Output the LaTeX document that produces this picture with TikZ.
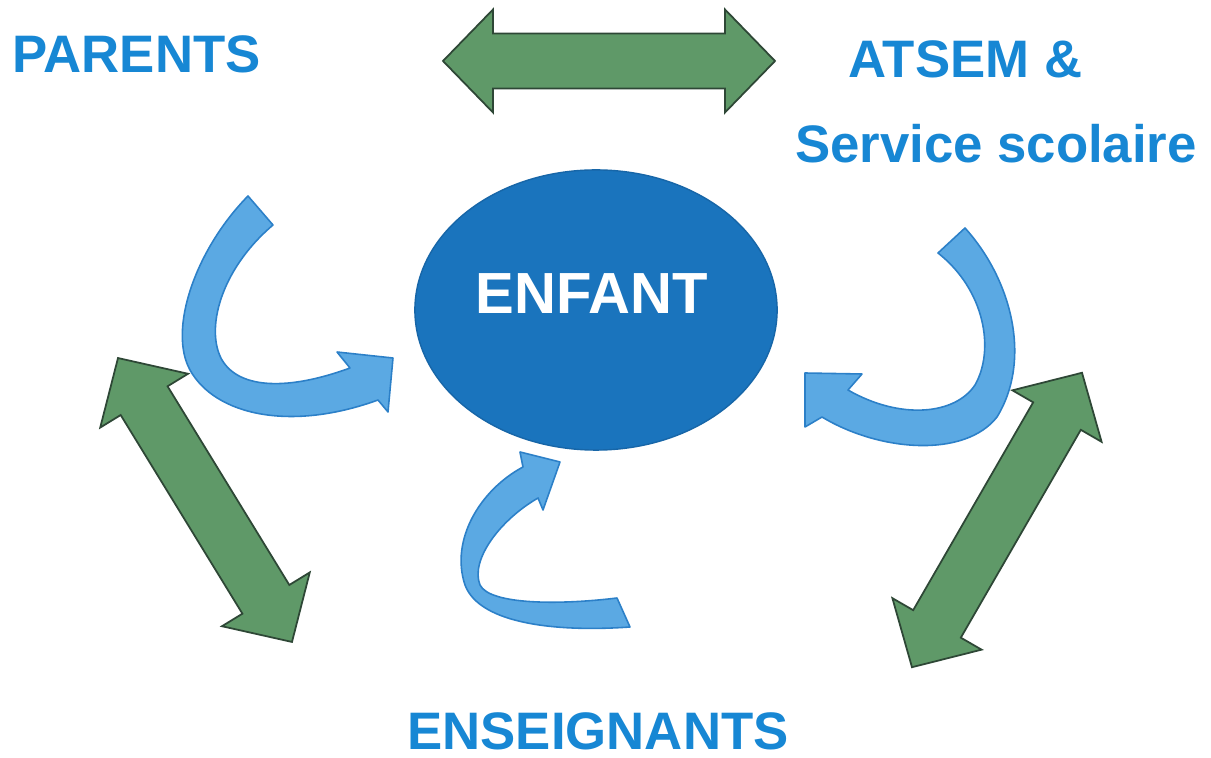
\documentclass[tikz,border=0pt]{standalone}
\usepackage{fontspec}
\setmainfont{Liberation Sans}
\usetikzlibrary{shapes.geometric}
\definecolor{txtblue}{HTML}{1787D4}
\definecolor{ellblue}{HTML}{1A74BD}
\definecolor{ellline}{HTML}{1766A8}
\definecolor{bfill}{HTML}{5BA9E3}
\definecolor{bline}{HTML}{2C80C8}
\definecolor{gfill}{HTML}{5F9968}
\definecolor{gline}{HTML}{2E4736}
\newcommand\dblarrowpath[1]{(-#1,0) -- (-#1+50,-51.5) -- (-#1+50,-27.5) -- (#1-50,-27.5) -- (#1-50,-51.5) -- (#1,0) -- (#1-50,51.5) -- (#1-50,27.5) -- (-#1+50,27.5) -- (-#1+50,51.5) -- cycle}
\begin{document}
\begin{tikzpicture}[x=0.01cm,y=-0.01cm,
  lbl/.style={text=txtblue,font=\fontsize{15}{18}\selectfont\bfseries,inner sep=0,anchor=base},
  garrow/.style={fill=gfill,draw=gline,line width=0.5pt,line join=miter},
  barrow/.style={fill=bfill,draw=bline,line width=0.45pt,line join=round}]
\useasboundingbox (0,0) rectangle (1211,758);
\fill[white] (0,0) rectangle (1211,758);

% labels
\node[lbl] (parents) at (136.5,73) {PARENTS};
\node[lbl] (atsem) at (965.5,78) {ATSEM \&};
\node[lbl] (service) at (996,163) {Service scolaire};
\node[lbl] (ens) at (598,750) {ENSEIGNANTS};

% central ellipse
\node[ellipse,fill=ellblue,draw=ellline,line width=0.4pt,minimum width=3.62cm,minimum height=2.8cm,inner sep=0] (enfant) at (596,310) {};
\node[lbl,text=white,font=\fontsize{16.5}{19}\selectfont\bfseries] (enfanttxt) at (591.5,314) {ENFANT};

% green double arrows
\draw[garrow,shift={(609,61)}] \dblarrowpath{166};
\draw[garrow,shift={(205,500)},rotate=-58.5] \dblarrowpath{166.5};
\draw[garrow,shift={(997,520)},rotate=60] \dblarrowpath{170};

% blue curved arrows
\filldraw[barrow] (248,196) .. controls (195,250) and (168,330) .. (190,370) .. controls (215,415) and (290,432) .. (378,400) -- (388,412) -- (393,358) -- (337,352) -- (350,368) .. controls (290,390) and (240,390) .. (222,360) .. controls (205,330) and (220,270) .. (273,225) -- cycle;
\filldraw[barrow] (965,228) .. controls (1012,280) and (1032,360) .. (997,417) .. controls (965,458) and (880,452) .. (822,417) -- (805,427) -- (805,373) -- (862,374) -- (848,390) .. controls (900,420) and (955,415) .. (975,385) .. controls (995,350) and (985,290) .. (938,253) -- cycle;
\filldraw[barrow] (630,627) .. controls (560,632) and (480,625) .. (465,585) .. controls (450,540) and (480,490) .. (523,467) -- (520,452) -- (560,462) -- (543,510) -- (538,498) .. controls (500,520) and (470,560) .. (480,585) .. controls (490,605) and (560,605) .. (617,598) -- cycle;
\end{tikzpicture}
\end{document}
